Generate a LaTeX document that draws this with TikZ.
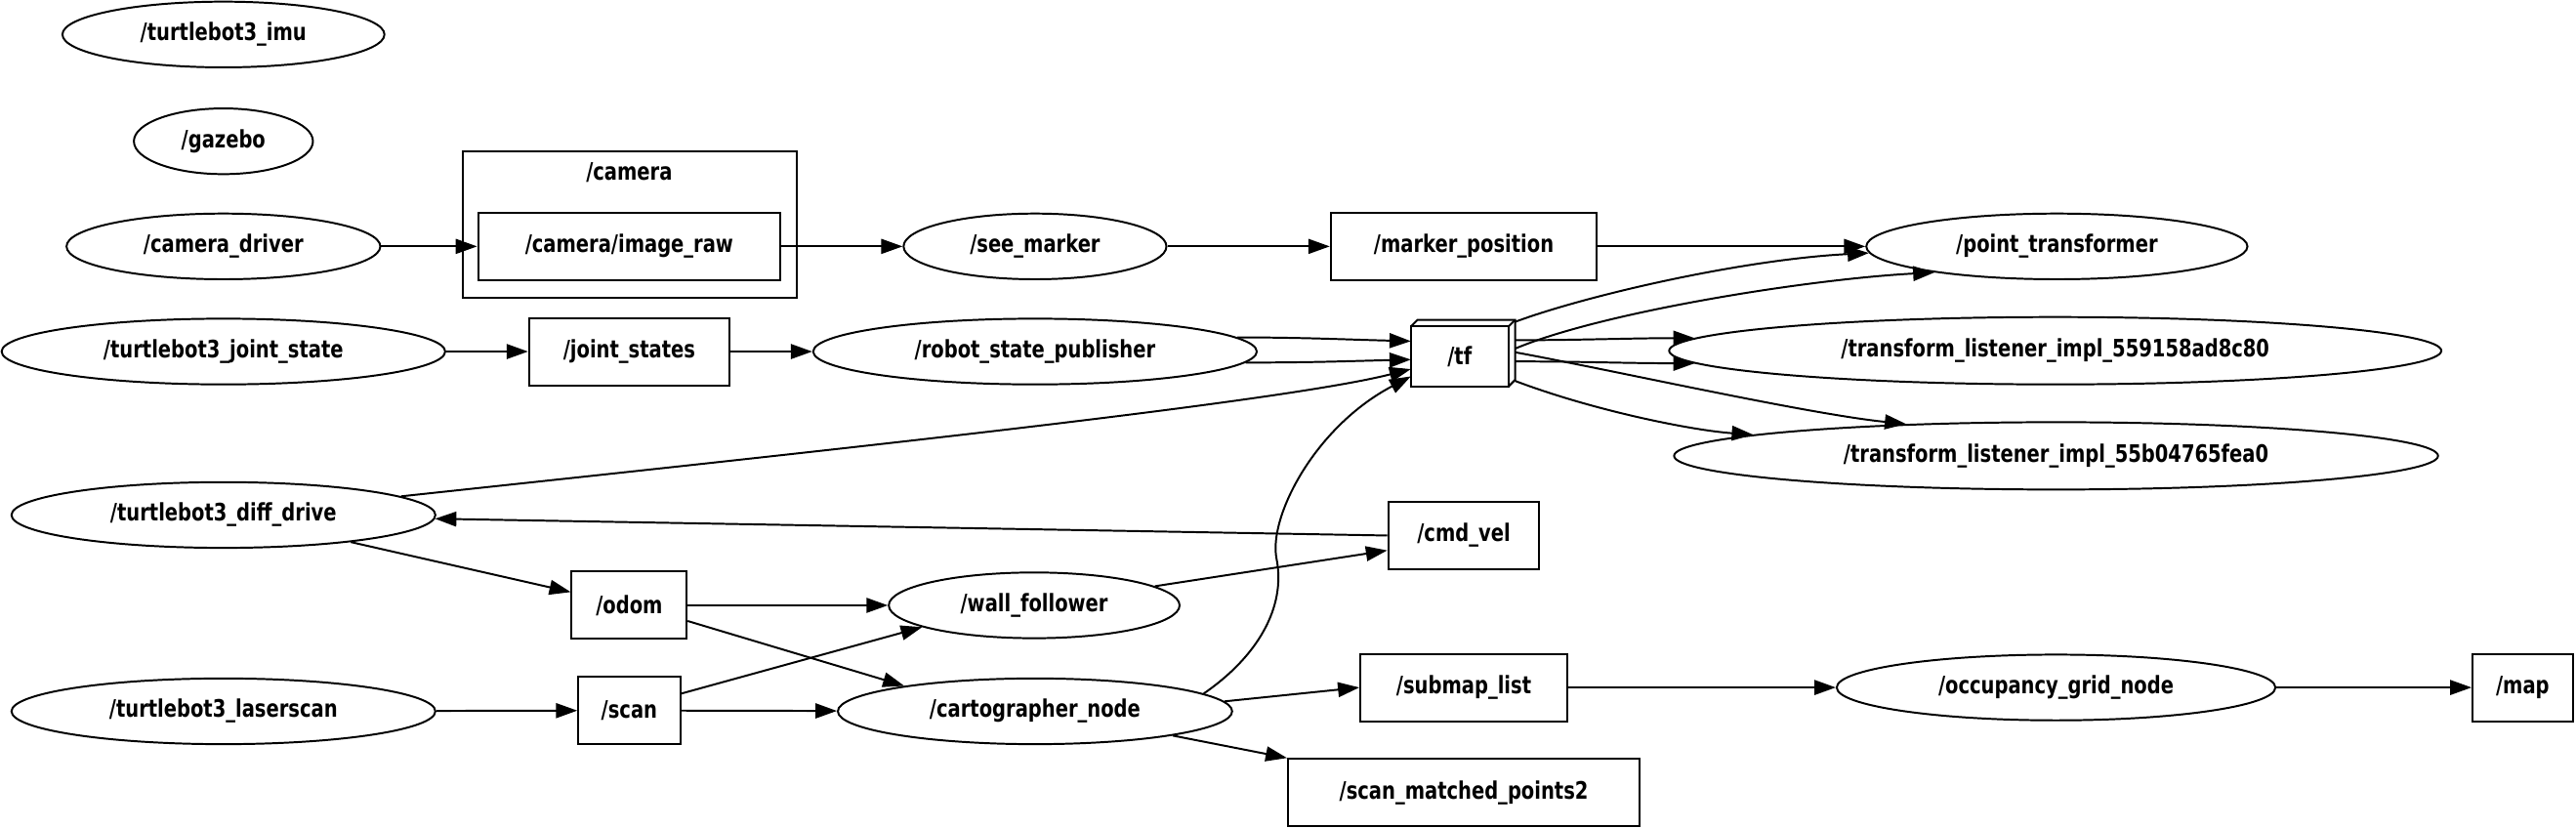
\documentclass[tikz,border=0pt]{standalone}
\usepackage{fontspec}
\setmainfont{DejaVu Sans Condensed}[FakeStretch=0.88]
\usepackage{tikz}
\usetikzlibrary{arrows.meta,shapes.geometric,positioning}

\begin{document}
\begin{tikzpicture}[
  x=0.03cm,y=-0.03cm,
  every node/.style={font=\bfseries\fontsize{12.5}{14}\selectfont},
  rosnode/.style={draw,ellipse,line width=1pt,inner sep=0pt,minimum height=1.2cm},
  topic/.style={draw,rectangle,line width=1pt,inner sep=0pt,minimum height=1.23cm},
  arr/.style={-{Triangle[length=0.39cm,width=0.27cm]},line width=1pt}
]
  \useasboundingbox (0,0) rectangle (1568,504);

  % --- left column of nodes ---
  \node[rosnode,minimum width=5.88cm] (imu) at (136,21) {/turtlebot3\_imu};
  \node[rosnode,minimum width=3.27cm] (gazebo) at (136,86) {/gazebo};
  \node[rosnode,minimum width=5.73cm] (camdrv) at (136,150) {/camera\_driver};
  \node[rosnode,minimum width=8.1cm] (jsnode) at (136,214) {/turtlebot3\_joint\_state};
  \node[rosnode,minimum width=7.74cm] (diffdrv) at (136,313.5) {/turtlebot3\_diff\_drive};
  \node[rosnode,minimum width=7.74cm] (lscan) at (136,433) {/turtlebot3\_laserscan};

  % --- camera namespace ---
  \node[draw,line width=1pt,inner sep=0pt,minimum width=6.09cm,minimum height=2.67cm] (camgrp) at (383.5,136.5) {};
  \node (camlbl) at (383,105) {/camera};
  \node[topic,minimum width=5.52cm] (imgraw) at (383,150) {/camera/image\_raw};

  % --- topics, second column ---
  \node[topic,minimum width=3.66cm] (jstates) at (383,214) {/joint\_states};
  \node[topic,minimum width=2.1cm] (odom) at (383,368.5) {/odom};
  \node[topic,minimum width=1.86cm] (scan) at (383,432.5) {/scan};

  % --- middle column ---
  \node[rosnode,minimum width=4.8cm] (seemk) at (630,150) {/see\_marker};
  \node[rosnode,minimum width=8.1cm] (rsp) at (630,214) {/robot\_state\_publisher};
  \node[rosnode,minimum width=5.31cm] (wallf) at (629.5,368.5) {/wall\_follower};
  \node[rosnode,minimum width=7.2cm] (carto) at (630,433) {/cartographer\_node};

  \node[topic,minimum width=4.86cm] (mkpos) at (891,150) {/marker\_position};
  \node[topic,minimum width=2.76cm] (cmdvel) at (891,326) {/cmd\_vel};
  \node[topic,minimum width=3.78cm] (submap) at (891,418.5) {/submap\_list};
  \node[topic,minimum width=6.42cm] (smp2) at (891,482.5) {/scan\_matched\_points2};

  % /tf drawn as a 3d box
  \node[inner sep=0pt,minimum width=1.89cm,minimum height=1.2cm] (tf) at (890.5,215) {};
  \draw[line width=1pt] (tf.south west) rectangle ([shift={(-4,4)}]tf.north east);
  \draw[line width=1pt] ([shift={(0,4)}]tf.north west) -- ([shift={(4,0)}]tf.north west)
    -- (tf.north east) -- ([shift={(0,-4)}]tf.south east) -- ([shift={(-4,0)}]tf.south east);
  \draw[line width=1pt] ([shift={(-4,4)}]tf.north east) -- (tf.north east);
  \node (tflbl) at (888.5,217) {/tf};

  % --- right side ---
  \node[rosnode,minimum width=6.96cm] (ptf) at (1252,150) {/point\_transformer};
  \node[rosnode,minimum width=14.1cm,minimum height=1.23cm] (tlA) at (1251,213.5) {/transform\_listener\_impl\_559158ad8c80};
  \node[rosnode,minimum width=13.95cm,minimum height=1.23cm] (tlB) at (1251.5,277.5) {/transform\_listener\_impl\_55b04765fea0};
  \node[rosnode,minimum width=8.01cm] (ogrid) at (1251.5,418.5) {/occupancy\_grid\_node};
  \node[topic,minimum width=1.83cm] (map) at (1535.5,418.5) {/map};

  % camera chain
  \draw[arr] (camdrv) -- (imgraw);
  \draw[arr] (imgraw) -- (seemk);
  \draw[arr] (seemk) -- (mkpos);
  \draw[arr] (mkpos) -- (ptf);

  % joint states and tf
  \draw[arr] (jsnode) -- (jstates);
  \draw[arr] (jstates) -- (rsp);
  \draw[arr] (rsp.4) .. controls +(40,0) and +(-40,-1) .. (tf.167.5);
  \draw[arr] (rsp.-3) .. controls +(40,0) and +(-40,1) .. (tf.187);
  \draw[arr] (diffdrv.6) .. controls (497,275) and (779,245) .. (tf.197.6);
  \coordinate (cbend) at (777,340);
  \draw[arr] (carto.6.5) .. controls (765,400) and (783,370) .. (cbend)
    .. controls (772,315) and (800,260) .. (tf.204);

  \draw[arr] (tf.31) .. controls (965,180) and (1060,158) .. (ptf.182);
  \draw[arr] (tf.5.4) .. controls (975,190) and (1100,170) .. (ptf.192.5);
  \draw[arr] (tf.14.2) .. controls +(40,0) and +(-40,0) .. (tlA.178.3);
  \draw[arr] (tf.-9) .. controls +(40,0) and +(-40,0) .. (tlA.182);
  \draw[arr] (tf.1.8) .. controls (980,225) and (1100,252) .. (tlB.168.6);
  \draw[arr] (tf.-28.4) .. controls (970,250) and (1030,262) .. (tlB.176.2);

  % driving and mapping
  \draw[arr] (diffdrv.-12.5) -- (odom);
  \draw[arr] (cmdvel.west) -- (diffdrv);
  \draw[arr] (odom) -- (wallf);
  \draw[arr] (odom.-15) -- (carto.169);
  \draw[arr] (wallf.9) -- (cmdvel.191);
  \draw[arr] (lscan) -- (scan);
  \draw[arr] (scan.18.7) -- (wallf.191);
  \draw[arr] (scan) -- (carto);
  \draw[arr] (carto.3) -- (submap.west);
  \draw[arr] (carto.-10) -- (smp2.north west);
  \draw[arr] (submap) -- (ogrid);
  \draw[arr] (ogrid) -- (map);

\end{tikzpicture}
\end{document}
